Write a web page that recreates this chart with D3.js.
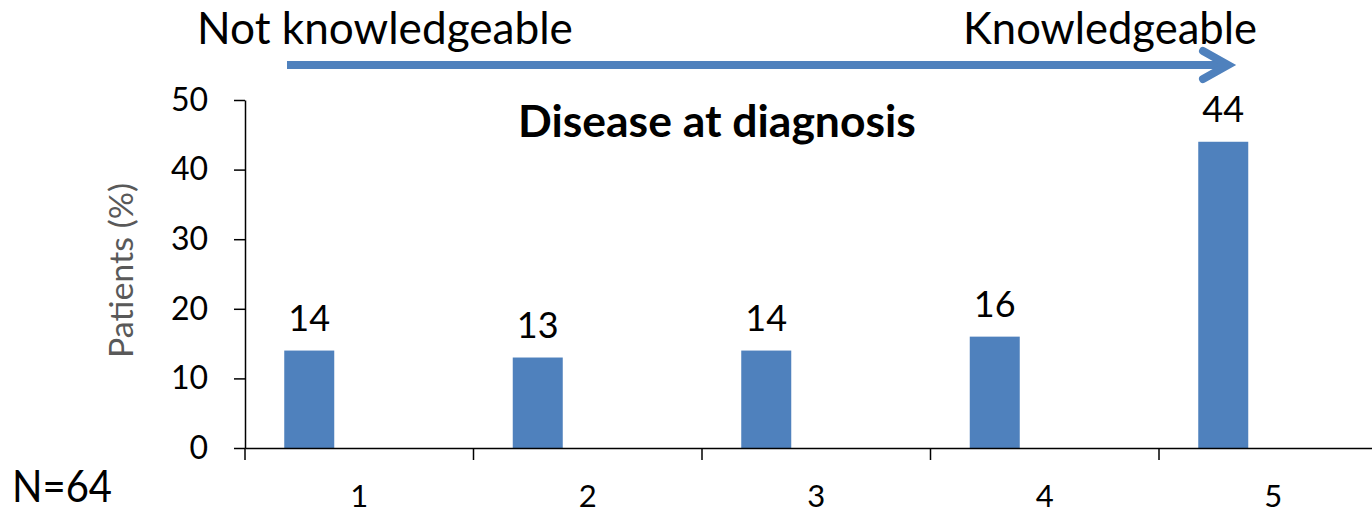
<!DOCTYPE html>
<html><head><meta charset="utf-8">
<script src="https://cdn.jsdelivr.net/npm/d3@7"></script>
<style>html,body{margin:0;padding:0;background:#fff;} svg{display:block;font-family:Lato,"Open Sans",sans-serif;}</style>
</head><body>
<script>
const categories = ["1","2","3","4","5"];
const values = [14, 13, 14, 16, 44];
const yTicks = [0, 10, 20, 30, 40, 50];
const seriesSlots = ["s1","s2","s3"];
const title = "Disease at diagnosis";
const leftLabel = "Not knowledgeable";
const rightLabel = "Knowledgeable";
const yLabel = "Patients (%)";
const nLabel = "N=64";

const W = 1372, H = 513;
const blue = "#4F81BD";
const svg = d3.select("body").append("svg").attr("width", W).attr("height", H);
svg.append("rect").attr("width", W).attr("height", H).attr("fill", "#fff");

const x = d3.scaleBand().domain(categories).range([245, 245 + 5 * 228.5]).padding(0);
const slot = d3.scaleBand().domain(seriesSlots).range([0, x.bandwidth()]).paddingInner(0).paddingOuter(0.785);
const y = d3.scaleLinear().domain([0, 50]).range([448, 100]);

function fit(sel, target) {
  const w = sel.node().getComputedTextLength();
  const fs = parseFloat(sel.attr("font-size"));
  sel.attr("font-size", (fs * target / w).toFixed(2));
  return sel;
}

// bars
svg.append("g").selectAll("rect").data(values).join("rect")
  .attr("x", (d, i) => x(categories[i]) + slot("s1"))
  .attr("width", slot.bandwidth())
  .attr("y", d => y(d))
  .attr("height", d => y(0) - y(d))
  .attr("fill", blue);

// value labels
svg.append("g").selectAll("text").data(values).join("text")
  .attr("x", (d, i) => x(categories[i]) + slot("s1") + slot.bandwidth() / 2)
  .attr("y", d => y(d) - 20)
  .attr("text-anchor", "middle")
  .attr("font-size", 36)
  .attr("fill", "#000")
  .text(d => d);

// y axis
const yAxis = svg.append("g").attr("transform", `translate(${x.range()[0]},0)`)
  .call(d3.axisLeft(y).tickValues(yTicks).tickSize(11).tickPadding(26).tickSizeOuter(0));
yAxis.select(".domain").attr("stroke", "#000").attr("stroke-width", 1.5);
yAxis.selectAll(".tick line").attr("stroke", "#000").attr("stroke-width", 1.5);
yAxis.selectAll(".tick text").attr("font-size", 32).attr("font-family", "Lato").attr("fill", "#000");

// x axis: labels at centres, ticks at band boundaries
const xAxis = svg.append("g").attr("transform", `translate(0,${y(0)})`)
  .call(d3.axisBottom(x).tickSize(0).tickPadding(37).tickSizeOuter(0));
xAxis.select(".domain").attr("stroke", "#000").attr("stroke-width", 1.5);
xAxis.selectAll(".tick text").attr("font-size", 31).attr("font-family", "Lato").attr("fill", "#000");
const bounds = categories.map(c => x(c)).concat([x.range()[1]]);
xAxis.selectAll("line.bound").data(bounds).join("line").attr("class", "bound")
  .attr("x1", d => d).attr("x2", d => d).attr("y1", 0).attr("y2", 12)
  .attr("stroke", "#000").attr("stroke-width", 1.5);

// y label
svg.append("text").attr("transform", `translate(133,${(183 + 358) / 2}) rotate(-90)`)
  .attr("text-anchor", "middle").attr("font-size", 33).attr("fill", "#595959")
  .attr("textLength", 175).attr("lengthAdjust", "spacingAndGlyphs").text(yLabel);

// title
const t = svg.append("text").attr("x", 518).attr("y", 137).attr("font-weight", "bold")
  .attr("font-size", 36).attr("fill", "#000").text(title);
fit(t, 398);

// arrow labels
const l1 = svg.append("text").attr("x", 197).attr("y", 44).attr("font-size", 38).attr("fill", "#000").text(leftLabel);
fit(l1, 376);
const l2 = svg.append("text").attr("x", 963).attr("y", 44).attr("font-size", 38).attr("fill", "#000").text(rightLabel);
fit(l2, 294);

// N label
svg.append("text").attr("x", 12).attr("y", 502).attr("font-size", 44).attr("fill", "#000")
  .attr("textLength", 100).attr("lengthAdjust", "spacingAndGlyphs").text(nLabel);

// arrow
svg.append("line").attr("x1", 287).attr("x2", 1226).attr("y1", 65).attr("y2", 65)
  .attr("stroke", blue).attr("stroke-width", 8);
svg.append("polyline").attr("points", "1203,51 1228,65 1203,79")
  .attr("fill", "none").attr("stroke", blue).attr("stroke-width", 8)
  .attr("stroke-linecap", "round").attr("stroke-linejoin", "miter");
</script>
</body></html>
